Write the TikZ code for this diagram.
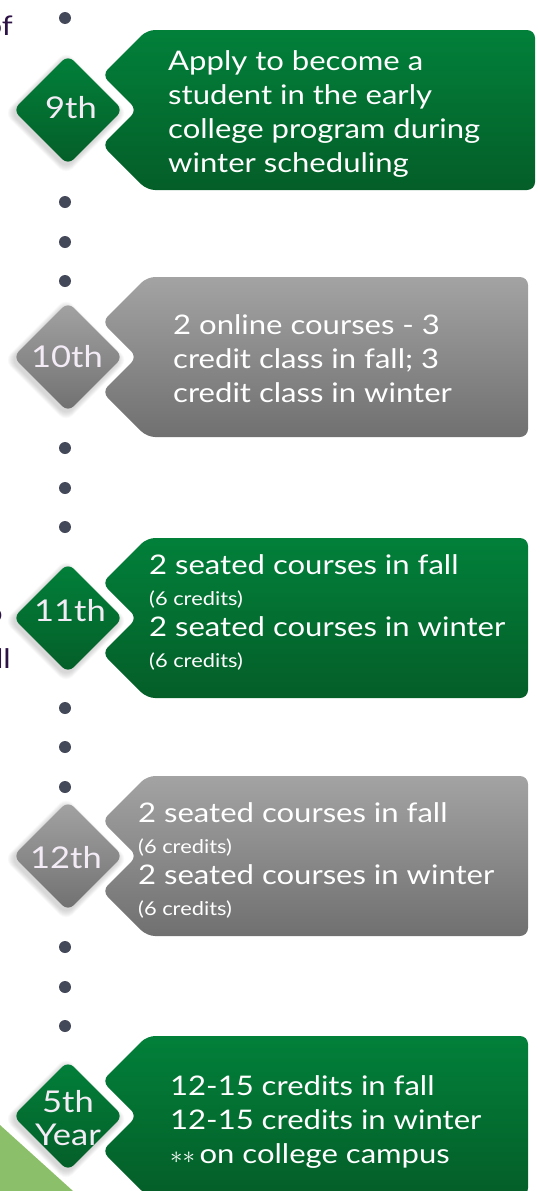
\documentclass[tikz,border=0pt]{standalone}
\usepackage{fontspec}
\setmainfont{Lato}[FakeStretch=1.15]
\usetikzlibrary{positioning,shapes.geometric}
\definecolor{greentop}{RGB}{2,128,58}
\definecolor{greenbot}{RGB}{4,94,40}
\definecolor{graytop}{RGB}{163,163,163}
\definecolor{graybot}{RGB}{112,112,112}
\definecolor{dotgray}{RGB}{67,73,88}
\definecolor{leafgreen}{RGB}{140,191,106}
\definecolor{fragtext}{RGB}{45,18,70}
\definecolor{stagetext}{RGB}{243,236,246}
\tikzset{
  stage/.style={diamond, minimum width=110pt, minimum height=110pt, inner sep=0pt, rounded corners=8pt},
  stagelabel/.style={inner sep=0pt, align=center, text=stagetext, font=\fontsize{30}{33}\selectfont},
  greentab/.style={top color=greentop, bottom color=greenbot},
  graytab/.style={top color=graytop, bottom color=graybot},
  info/.style={anchor=north west, inner sep=0pt, align=left, text=white, font=\fontsize{27}{34}\selectfont},
  infosmall/.style={info, font=\fontsize{27}{31}\selectfont},
  dot/.style={circle, fill=dotgray, minimum size=12pt, inner sep=0pt},
  frag/.style={anchor=base east, inner sep=0pt, text=fragtext, font=\fontsize{27}{34}\selectfont}
}
% tab with notch: centre x, centre y, right edge, look
\newcommand{\tabshape}[4]{%
  \path[#4, rounded corners=8pt] (#1+79,#2-80) -- (#1+34,#2-35) -- (#1+69,#2) -- (#1+34,#2+35)
    -- (#1+79,#2+80) -- (#3,#2+80) -- (#3,#2-80) -- cycle;
  \foreach \k in {1,...,7}
    \fill[black, opacity=0.025, rounded corners=9pt] (#1-57-\k,#2+3) -- (#1-2,#2-52-\k) -- (#1+53+\k,#2+3) -- (#1-2,#2+58+\k) -- cycle;
}
\begin{document}
\begin{tikzpicture}[x=1pt, y=-1pt]
  \useasboundingbox (0,0) rectangle (539,1191);
  \clip (0,0) rectangle (539,1191);
  \fill[leafgreen] (0,1125) -- (73,1191) -- (0,1191) -- cycle;

  % dotted timeline
  \foreach \y [count=\i] in {18,202,242,281,448,488,527,708,747,787,947,987,1026}
    \node[dot] (d\i) at (65,\y) {};

  \tabshape{68}{110}{535}{greentab}
  \tabshape{68}{357}{528}{graytab}
  \tabshape{68}{618}{528}{greentab}
  \tabshape{68}{856}{528}{graytab}
  \tabshape{68}{1116}{528}{greentab}

  \node[stage, greentab] (s9) at (68,110) {};
  \node[stage, graytab] (s10) at (68,357) {};
  \node[stage, greentab] (s11) at (68,618) {};
  \node[stage, graytab] (s12) at (68,856) {};
  \node[stage, greentab] (s5) at (68,1116) {};

  \node[stagelabel] (l9) at (71,108) {9th};
  \node[stagelabel] (l10) at (67,357) {10th};
  \node[stagelabel] (l11) at (70,611) {11th};
  \node[stagelabel] (l12) at (66,858) {12th};
  \node[stagelabel] (l5) at (68,1118) {5th\\Year};

  \node[info] (t9) at (168,50) {Apply to become a\\student in the early\\college program during\\winter scheduling};
  \node[info] (t10) at (173,314) {2 online courses - 3\\credit class in fall; 3\\credit class in winter};
  \node[infosmall] (t11) at (149,554) {2 seated courses in fall\\{\fontsize{19}{31}\selectfont (6 credits)}\\2 seated courses in winter\\{\fontsize{19}{31}\selectfont (6 credits)}};
  \node[infosmall] (t12) at (138,802) {2 seated courses in fall\\{\fontsize{19}{31}\selectfont (6 credits)}\\2 seated courses in winter\\{\fontsize{19}{31}\selectfont (6 credits)}};
  \node[info] (t5) at (170,1075) {12-15 credits in fall\\12-15 credits in winter\\$\ast\ast$\,on college campus};

  % cut-off words from the next column
  \node[frag] (f1) at (13,35) {of};
  \node[frag] (f2) at (3,622) {o};
  \node[frag] (f3) at (11,668) {ll};
\end{tikzpicture}
\end{document}
